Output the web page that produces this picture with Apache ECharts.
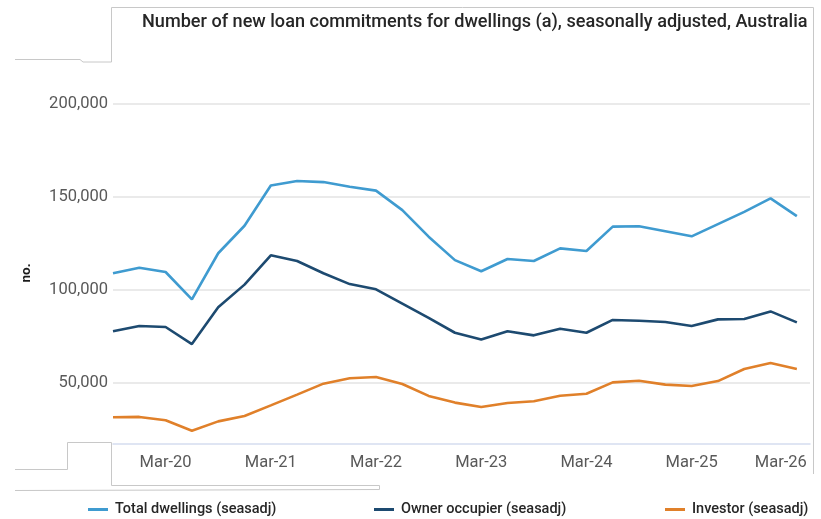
<!DOCTYPE html>
<html>
<head>
<meta charset="utf-8">
<script src="https://cdn.jsdelivr.net/npm/echarts@6/dist/echarts.min.js"></script>
<style>
html,body{margin:0;padding:0;background:#fff;}
#chart{width:821px;height:519px;}
</style>
</head>
<body>
<div id="chart"></div>
<script>
const quarters = ['Sep-19','Dec-19','Mar-20','Jun-20','Sep-20','Dec-20','Mar-21','Jun-21','Sep-21','Dec-21','Mar-22','Jun-22','Sep-22','Dec-22','Mar-23','Jun-23','Sep-23','Dec-23','Mar-24','Jun-24','Sep-24','Dec-24','Mar-25','Jun-25','Sep-25','Dec-25','Mar-26'];
const totalDwellings = [108900,111900,109600,94900,119700,134500,156200,158600,158000,155500,153400,142900,128600,116000,110000,116600,115500,122300,120900,134000,134200,131500,128800,135400,142000,149200,139700];
const ownerOccupier = [77700,80500,80000,70800,90600,102800,118600,115500,108900,103100,100300,92600,84900,76900,73300,77700,75500,79100,76900,83800,83400,82700,80500,84100,84300,88400,82500];
const investor = [31400,31600,29800,24200,29200,32100,37800,43600,49500,52400,53100,49300,42900,39300,36900,39100,40000,43000,44100,50200,51100,49000,48200,50900,57400,60600,57400];
const xTickIdx = [2,6,10,14,18,22,26];
const yTicks = [50000,100000,150000,200000];
const seriesNames = ['Total dwellings (seasadj)','Owner occupier (seasadj)','Investor (seasadj)'];
const titleText = 'Number of new loan commitments for dwellings (a), seasonally adjusted, Australia';

const colors = ['#3f9bd0','#1d4a70','#e0802a'];
const toPairs = arr => arr.map((v,i)=>[i,v]);
const fmt = v => String(v).replace(/\B(?=(\d{3})+(?!\d))/g, ',');
const frame = '#c8c8c8';

const chart = echarts.init(document.getElementById('chart'), null, {renderer:'canvas'});
const legendX = [88, 374, 665];
chart.setOption({
  animation:false,
  backgroundColor:'#ffffff',
  title:{
    text:titleText, left:142, top:13, padding:0,
    textStyle:{fontFamily:'Roboto', fontSize:18.1, fontWeight:500, color:'#262626'}
  },
  legend: seriesNames.map((n,i)=>({
    data:[n], left:legendX[i], top:502, padding:0, icon:'rect', itemWidth:20, itemHeight:3, itemGap:0,
    textStyle:{fontFamily:'Roboto', fontSize:14.5, fontWeight:500, color:'#262626', padding:[0,0,0,2]}
  })),
  grid:{left:113, right:11, top:57.6, bottom:75.7, containLabel:false},
  xAxis:{
    type:'value', min:0, max:26.5,
    axisLine:{show:true, lineStyle:{color:'#d5ddef', width:1.5}},
    axisTick:{show:false},
    splitLine:{show:false},
    axisLabel:{
      customValues:xTickIdx, margin:11,
      fontFamily:'Roboto', fontSize:16.5, color:'#595959',
      formatter:v=>{ const q = quarters[Math.round(v)]; return Math.round(v)===quarters.length-1 ? '{r|'+q+'}' : q; },
      rich:{r:{fontFamily:'Roboto', fontSize:16.5, color:'#595959', padding:[0,32,0,0]}}
    }
  },
  yAxis:{
    type:'value', min:17400, max:225000,
    axisLine:{show:false}, axisTick:{show:false, customValues:yTicks},
    axisLabel:{customValues:yTicks, formatter:fmt, fontFamily:'Roboto', fontSize:16.5, color:'#595959', margin:5},
    splitLine:{show:true, lineStyle:{color:'#e3e3e3', width:1.5}}
  },
  series:[
    {name:seriesNames[0], type:'line', data:toPairs(totalDwellings), showSymbol:false, symbol:'none', lineStyle:{width:2.6, color:colors[0]}, itemStyle:{color:colors[0]}},
    {name:seriesNames[1], type:'line', data:toPairs(ownerOccupier), showSymbol:false, symbol:'none', lineStyle:{width:2.6, color:colors[1]}, itemStyle:{color:colors[1]}},
    {name:seriesNames[2], type:'line', data:toPairs(investor), showSymbol:false, symbol:'none', lineStyle:{width:2.6, color:colors[2]}, itemStyle:{color:colors[2]}}
  ],
  graphic:[
    {type:'text', x:27, y:273, rotation:Math.PI/2, style:{text:'no.', font:'bold 13.5px Roboto', fill:'#1a1a1a', align:'center', verticalAlign:'middle'}},
    {type:'polyline', silent:true, shape:{points:[[111.5,62],[111.5,7.5],[813.5,7.5],[813.5,474]]}, style:{stroke:frame, lineWidth:1, fill:null}},
    {type:'polyline', silent:true, shape:{points:[[15,59.5],[80,59.5],[83,62],[111.5,62]]}, style:{stroke:frame, lineWidth:1, fill:null}},
    {type:'polyline', silent:true, shape:{points:[[111.5,485.5],[111.5,442.5],[67.5,442.5],[67.5,469.5],[15,469.5]]}, style:{stroke:frame, lineWidth:1, fill:null}},
    {type:'polyline', silent:true, shape:{points:[[111.5,485.5],[379.5,485.5],[379.5,489.5],[15,490.5]]}, style:{stroke:frame, lineWidth:1, fill:null}}
  ]
});
</script>
</body>
</html>
